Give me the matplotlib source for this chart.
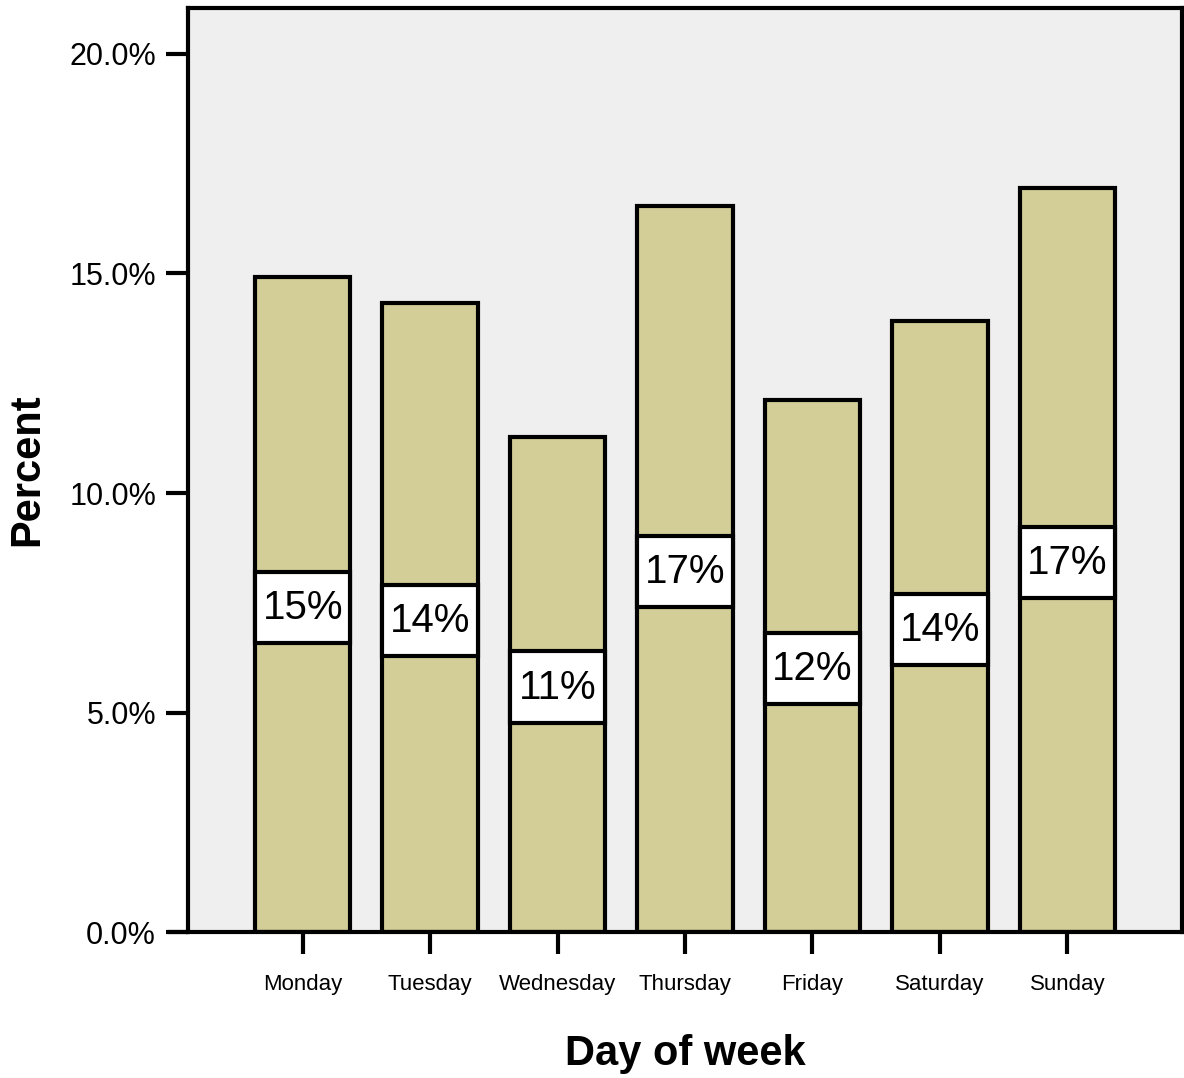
import matplotlib
matplotlib.use("Agg")
import matplotlib.pyplot as plt
from matplotlib.patches import Rectangle
from matplotlib.ticker import FuncFormatter, FixedLocator

days = ["Monday", "Tuesday", "Wednesday", "Thursday", "Friday", "Saturday", "Sunday"]
percent = [14.92, 14.33, 11.28, 16.54, 12.12, 13.92, 16.95]
y_ticks = [0, 5, 10, 15, 20]

plt.rcParams["font.family"] = ["Liberation Sans", "DejaVu Sans"]

fig = plt.figure(figsize=(11.84, 10.78), dpi=100)
ax = fig.add_axes([0.1588, 0.1354, 0.9983 - 0.1588, 0.9926 - 0.1354])
ax.set_facecolor("#EFEFEF")

x = list(range(len(days)))
bar_w = 0.75
ax.bar(x, percent, width=bar_w, color="#D3CE98", edgecolor="black",
       linewidth=3, zorder=2)

# value boxes centred halfway up each bar
box_h = 1.62
for xi, v in zip(x, percent):
    ax.add_patch(Rectangle((xi - bar_w / 2, v / 2 - box_h / 2 - 0.06), bar_w, box_h,
                           facecolor="white", edgecolor="black", linewidth=3,
                           zorder=3))
    ax.text(xi, v / 2 - 0.08, f"{v:.0f}%", ha="center", va="center",
            fontsize=29, zorder=4)

ax.set_xlim(-0.9, 6.9)
ax.set_ylim(0, 20.0 * (932 - 8) / 878)

ax.yaxis.set_major_locator(FixedLocator(y_ticks))
ax.yaxis.set_major_formatter(FuncFormatter(lambda v, p: f"{v:.1f}%"))
ax.set_xticks(x)
ax.set_xticklabels(days)

for s in ax.spines.values():
    s.set_linewidth(3)
    s.set_color("black")

ax.tick_params(axis="y", length=16, width=3, pad=7, labelsize=22)
ax.tick_params(axis="x", length=16, width=3, pad=14, labelsize=16)

# extend the baseline past the left spine like the 0% tick
ax.plot([-0.9 - 20 / 128, -0.9], [0, 0], color="black", lw=3,
        clip_on=False, zorder=5, solid_capstyle="butt")

ax.set_xlabel("Day of week", fontsize=30, fontweight="bold", labelpad=28)
ax.set_ylabel("Percent", fontsize=30, fontweight="bold", labelpad=16)

fig.savefig("out.png", dpi=100)
